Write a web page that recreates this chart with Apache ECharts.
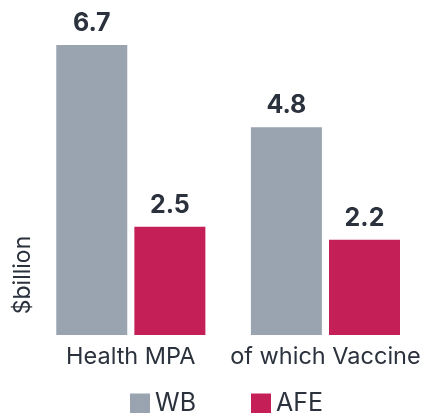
<!DOCTYPE html>
<html><head><meta charset="utf-8">
<script src="https://cdn.jsdelivr.net/npm/echarts@6/dist/echarts.min.js"></script>
<style>html,body{margin:0;padding:0;background:#fff}#c{width:423px;height:413px}</style>
</head><body><div id="c"></div>
<script>
const categories = ["Health MPA", "of which Vaccine"];
const seriesNames = ["WB", "AFE"];
const wbValues = [6.7, 4.8];
const afeValues = [2.5, 2.2];
const yAxisTitle = "$billion";

const FONT = "Inter";
const TXT = "#2b323d";
const chart = echarts.init(document.getElementById('c'), null, {renderer: 'canvas'});
chart.setOption({
  animation: false,
  textStyle: {fontFamily: FONT},
  grid: {left: 33.5, width: 392, top: 32, height: 303},
  legend: {
    data: seriesNames, top: 391, left: 130, itemWidth: 20, itemHeight: 20, itemGap: 55,
    icon: 'rect', padding: 0,
    textStyle: {fontFamily: FONT, fontSize: 25, lineHeight: 20, color: TXT, padding: [2,0,0,0]}
  },
  xAxis: {
    type: 'category', data: categories,
    axisLine: {show: false}, axisTick: {show: false},
    axisLabel: {interval: 0, fontFamily: FONT, fontSize: 23.5, color: TXT, margin: 10}
  },
  yAxis: {
    type: 'value', min: 0, max: 7,
    axisLine: {show: false}, axisTick: {show: false}, axisLabel: {show: false}, splitLine: {show: false}
  },
  graphic: [{
    type: 'text', x: 23, y: 275, rotation: Math.PI / 2,
    style: {text: yAxisTitle, fontFamily: FONT, fontSize: 23, fill: TXT, textAlign: 'center', textVerticalAlign: 'middle'},
    originX: 0, originY: 0
  }],
  series: [
    {name: seriesNames[0], type: 'bar', data: wbValues, barWidth: 71, barGap: '10%',
     itemStyle: {color: '#9aa3b0'},
     label: {show: true, position: 'top', distance: 9, fontFamily: FONT, fontWeight: 'bold', fontSize: 25, color: TXT}},
    {name: seriesNames[1], type: 'bar', data: afeValues, barWidth: 71,
     itemStyle: {color: '#c41f56'},
     label: {show: true, position: 'top', distance: 9, fontFamily: FONT, fontWeight: 'bold', fontSize: 25, color: TXT}}
  ]
});
</script></body></html>
